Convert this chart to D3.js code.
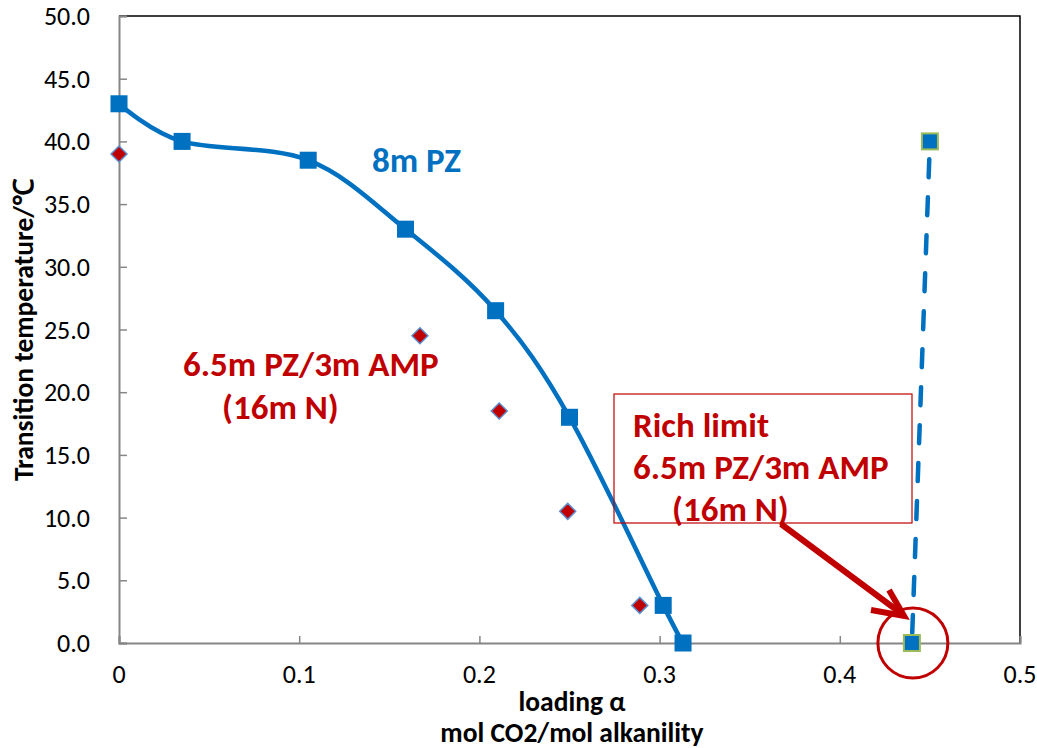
<!DOCTYPE html>
<html>
<head>
<meta charset="utf-8">
<script src="https://cdn.jsdelivr.net/npm/d3@7"></script>
<style>
    body { margin: 0; background: #fff; }
    text { font-family: Calibri, Carlito, "Open Sans", sans-serif; }
</style>
</head>
<body>
<svg id="chart" width="1037" height="748"></svg>
<script>
// 8m PZ (smoothed line + squares)
const pzLoading = [0, 0.035, 0.105, 0.159, 0.209, 0.25, 0.302, 0.313]
const pzTemp = [43, 40, 38.5, 33, 26.5, 18, 3, 0]

// 6.5m PZ/3m AMP (diamonds only)
const blendLoading = [0, 0.167, 0.211, 0.249, 0.289]
const blendTemp = [39, 24.5, 18.5, 10.5, 3]

// rich limit (dashed)
const richLoading = [0.44, 0.45]
const richTemp = [0, 40]

const xTicks = [0, 0.1, 0.2, 0.3, 0.4, 0.5]
const yTicks = [0, 5, 10, 15, 20, 25, 30, 35, 40, 45, 50]

const blue = '#0070C0'
const red = '#C00000'

const svg = d3.select('#chart')
const margin = { left: 119, right: 1020, top: 16, bottom: 643 }

const x = d3.scaleLinear().domain([0, 0.5]).range([margin.left, margin.right])
const y = d3.scaleLinear().domain([0, 50]).range([margin.bottom, margin.top])

// 上边框和右边框
svg.append('path')
    .attr('d', `M${margin.left},${margin.top}H${margin.right}V${margin.bottom}`)
    .attr('fill', 'none')
    .attr('stroke', '#000')
    .attr('stroke-width', 1.5)

// y 轴
const yAxis = svg.append('g')
    .attr('transform', `translate(${margin.left},0)`)
    .call(d3.axisRight(y).tickValues(yTicks).tickSize(8).tickFormat(''))
yAxis.select('.domain').attr('stroke', '#868686').attr('stroke-width', 2)
yAxis.selectAll('.tick line').attr('stroke', '#868686').attr('stroke-width', 1.5)

svg.append('g').selectAll('text')
    .data(yTicks)
    .join('text')
    .attr('x', 90)
    .attr('y', d => y(d) + 9)
    .attr('text-anchor', 'end')
    .attr('font-size', 26)
    .attr('fill', '#000')
    .text(d => d.toFixed(1))

// x 轴
const xAxis = svg.append('g')
    .attr('transform', `translate(0,${margin.bottom})`)
    .call(d3.axisTop(x).tickValues(xTicks).tickSize(7).tickFormat(''))
xAxis.select('.domain').attr('stroke', '#868686').attr('stroke-width', 2)
xAxis.selectAll('.tick line').attr('stroke', '#868686').attr('stroke-width', 1.5)

svg.append('g').selectAll('text')
    .data(xTicks)
    .join('text')
    .attr('x', d => x(d))
    .attr('y', 683)
    .attr('text-anchor', 'middle')
    .attr('font-size', 26)
    .attr('fill', '#000')
    .text(d => (d === 0 ? '0' : String(d)))

// 轴标题
svg.append('text')
    .attr('x', 572).attr('y', 711)
    .attr('text-anchor', 'middle')
    .attr('font-size', 27.5).attr('font-weight', 'bold')
    .text('loading α')
svg.append('text')
    .attr('x', 572).attr('y', 742)
    .attr('text-anchor', 'middle')
    .attr('font-size', 27.5).attr('font-weight', 'bold')
    .text('mol CO2/mol alkanility')
svg.append('text')
    .attr('transform', 'translate(33,330) rotate(-90)')
    .attr('text-anchor', 'middle')
    .attr('font-size', 27.5).attr('font-weight', 'bold')
    .text('Transition temperature/℃')

// 8m PZ 平滑线
const pzData = pzLoading.map((d, i) => [d, pzTemp[i]])
svg.append('path')
    .datum(pzData)
    .attr('fill', 'none')
    .attr('stroke', blue)
    .attr('stroke-width', 4.5)
    .attr('d', d3.line().x(d => x(d[0])).y(d => y(d[1])).curve(d3.curveCatmullRom.alpha(0)))

svg.append('g').selectAll('rect')
    .data(pzData)
    .join('rect')
    .attr('x', d => x(d[0]) - 8.5)
    .attr('y', d => y(d[1]) - 8.5)
    .attr('width', 17).attr('height', 17)
    .attr('fill', blue)

// 6.5m PZ/3m AMP 菱形
const blendData = blendLoading.map((d, i) => [d, blendTemp[i]])
svg.append('g').selectAll('path')
    .data(blendData)
    .join('path')
    .attr('transform', d => `translate(${x(d[0])},${y(d[1])})`)
    .attr('d', 'M0,-8L8,0L0,8L-8,0Z')
    .attr('fill', red)
    .attr('stroke', '#5B8FD0')
    .attr('stroke-width', 1.5)

// rich limit 虚线
const richData = richLoading.map((d, i) => [d, richTemp[i]])
svg.append('path')
    .datum(richData)
    .attr('fill', 'none')
    .attr('stroke', blue)
    .attr('stroke-width', 4.5)
    .attr('stroke-linecap', 'round')
    .attr('stroke-dasharray', '18,20')
    .attr('stroke-dashoffset', -10)
    .attr('d', d3.line().x(d => x(d[0])).y(d => y(d[1])))

svg.append('g').selectAll('rect')
    .data(richData)
    .join('rect')
    .attr('x', d => x(d[0]) - 8)
    .attr('y', d => y(d[1]) - 8)
    .attr('width', 16).attr('height', 16)
    .attr('fill', blue)
    .attr('stroke', '#9BBB59')
    .attr('stroke-width', 2)

// 注释文字
svg.append('text')
    .attr('x', 372).attr('y', 172)
    .attr('font-size', 35).attr('font-weight', 'bold')
    .attr('fill', blue)
    .text('8m PZ')

const blendLabel = svg.append('text')
    .attr('font-size', 35).attr('font-weight', 'bold')
    .attr('fill', red)
blendLabel.append('tspan').attr('x', 183).attr('y', 376).text('6.5m PZ/3m AMP')
blendLabel.append('tspan').attr('x', 222).attr('y', 419).text('(16m N)')

// rich limit 框
svg.append('rect')
    .attr('x', 614).attr('y', 394)
    .attr('width', 298).attr('height', 129)
    .attr('fill', 'none')
    .attr('stroke', red)
    .attr('stroke-width', 1.2)

const richLabel = svg.append('text')
    .attr('font-size', 35).attr('font-weight', 'bold')
    .attr('fill', red)
richLabel.append('tspan').attr('x', 633).attr('y', 437).text('Rich limit')
richLabel.append('tspan').attr('x', 633).attr('y', 479).text('6.5m PZ/3m AMP')
richLabel.append('tspan').attr('x', 672).attr('y', 521).text('(16m N)')

// 箭头和圆圈
svg.append('path')
    .attr('d', 'M781,524L902,614')
    .attr('stroke', red)
    .attr('stroke-width', 6)
    .attr('fill', 'none')
svg.append('path')
    .attr('d', 'M889,590L904,616L871,610')
    .attr('stroke', red)
    .attr('stroke-width', 6)
    .attr('stroke-linejoin', 'miter')
    .attr('fill', 'none')

svg.append('circle')
    .attr('cx', x(richLoading[0]) + 1)
    .attr('cy', y(richTemp[0]))
    .attr('r', 35)
    .attr('fill', 'none')
    .attr('stroke', red)
    .attr('stroke-width', 3)
</script>
</body>
</html>
